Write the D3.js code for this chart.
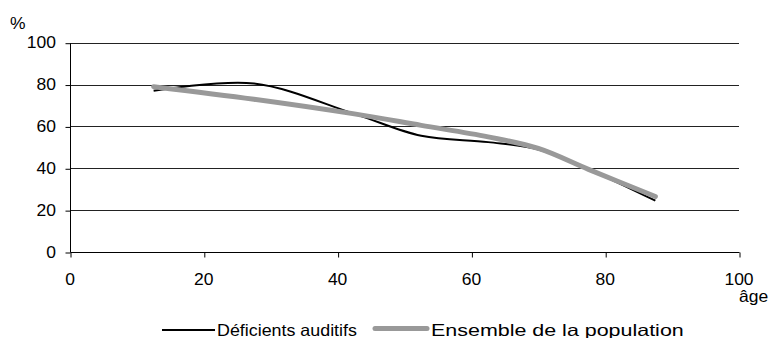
<!DOCTYPE html>
<html>
<head>
<meta charset="utf-8">
<script src="https://cdn.jsdelivr.net/npm/d3@7"></script>
<style>
  body { margin: 0; background: #fff; }
  text { font-family: "Liberation Sans", Arial, sans-serif; fill: #000; }
</style>
</head>
<body>
<div id="chart"></div>
<script>
// age groups (midpoints) and shares in %
const ages = [12.5, 27.5, 42.5, 52.5, 62.5, 70, 77.5, 87.5];
const deficients = [77, 80.5, 66, 55.5, 52.5, 49, 39.5, 24.5];
const ensemble = [79, 73, 66, 60.5, 55, 49.5, 39.5, 26.5];
const xTicks = [0, 20, 40, 60, 80, 100];
const yTicks = [0, 20, 40, 60, 80, 100];
const seriesNames = ["Déficients auditifs", "Ensemble de la population"];

const width = 773, height = 338;
const stretch = 1.06; // text in the picture is drawn a bit wide

const svg = d3.select("#chart").append("svg")
    .attr("width", width)
    .attr("height", height);

const x = d3.scaleLinear().domain([0, 100]).range([70, 739]);
const y = d3.scaleLinear().domain([0, 100]).range([252, 42.7]);

// text with a horizontal stretch, or fitted to a given width
function label(g, tx, ty, str, anchor, fitWidth) {
    const t = g.append("text")
        .attr("text-anchor", anchor || "start")
        .style("font-size", "16.5px")
        .text(str);
    let sx = stretch;
    if (fitWidth) sx = fitWidth / t.node().getComputedTextLength();
    t.attr("transform", `translate(${tx},${ty}) scale(${sx},1)`);
    return t;
}

// gridlines
svg.append("g")
    .selectAll("line")
    .data(yTicks.filter(d => d > 0))
    .join("line")
    .attr("x1", x(0)).attr("x2", x(100))
    .attr("y1", d => Math.round(y(d)) + 0.5)
    .attr("y2", d => Math.round(y(d)) + 0.5)
    .attr("stroke", "#222")
    .attr("stroke-width", 1);

// y axis
svg.append("g")
    .attr("transform", `translate(${x(0) + 0.5},0.5)`)
    .call(d3.axisLeft(y).tickValues(yTicks).tickSize(5).tickFormat(""))
    .call(g => g.selectAll("path, line").attr("stroke", "#000"))
    .call(g => g.select(".domain").attr("d", `M0,${Math.round(y(100))}V${Math.round(y(0))}`));

// x axis
svg.append("g")
    .attr("transform", `translate(0.5,${Math.round(y(0)) + 0.5})`)
    .call(d3.axisBottom(x).tickValues(xTicks).tickSize(5).tickFormat(""))
    .call(g => g.selectAll("path, line").attr("stroke", "#000"))
    .call(g => g.select(".domain").attr("d", `M${x(0)},0H${x(100)}`));

// tick labels
const labels = svg.append("g");
yTicks.forEach(d => label(labels, 56, y(d) + 5.6, d, "end"));
xTicks.forEach(d => label(labels, x(d), 284.5, d, "middle"));
label(labels, 10, 29, "%");
label(labels, 739, 302, "âge");

// lines
const line = d3.line()
    .x(d => x(d[0]))
    .y(d => y(d[1]))
    .curve(d3.curveCatmullRom.alpha(0.5));

svg.append("path")
    .datum(ages.map((a, i) => [a, deficients[i]]))
    .attr("fill", "none")
    .attr("stroke", "#000")
    .attr("stroke-width", 2)
    .attr("d", line);

svg.append("path")
    .datum(ages.map((a, i) => [a, ensemble[i]]))
    .attr("fill", "none")
    .attr("stroke", "#999")
    .attr("stroke-width", 5)
    .attr("stroke-linecap", "round")
    .attr("d", line);

// legend
const legend = svg.append("g");
legend.append("line")
    .attr("x1", 162).attr("x2", 215)
    .attr("y1", 330).attr("y2", 330)
    .attr("stroke", "#000").attr("stroke-width", 2);
label(legend, 217, 335.5, seriesNames[0], "start", 140);
legend.append("line")
    .attr("x1", 375).attr("x2", 427)
    .attr("y1", 328.5).attr("y2", 328.5)
    .attr("stroke", "#999").attr("stroke-width", 5)
    .attr("stroke-linecap", "round");
label(legend, 431, 335.5, seriesNames[1], "start", 253);
</script>
</body>
</html>
